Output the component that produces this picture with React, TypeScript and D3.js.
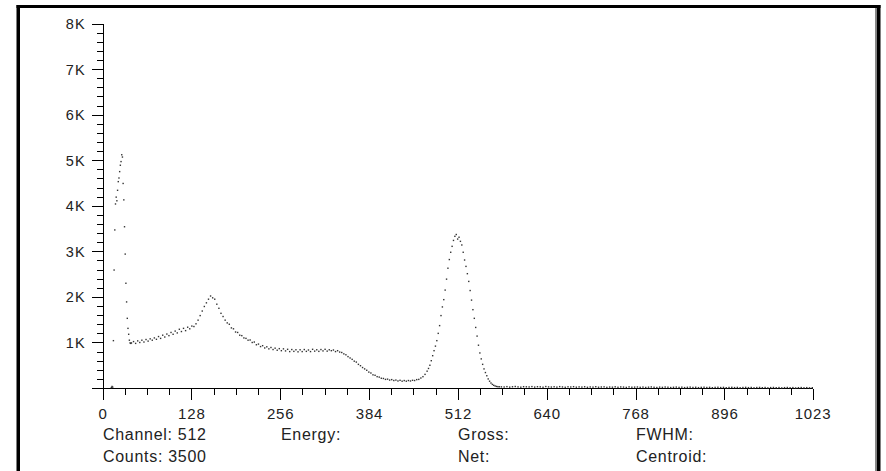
import React from 'react';
import * as d3 from 'd3';

// spectrum counts, split in segments with their own channel step
const edgeStart = 12;
const edgeStep = 1;
const edgeCounts = [20, 45, 30, 1050, 2600, 3480, 4050, 4200, 4120, 4350, 4540, 4620, 4760, 4900, 4980, 5130, 5080, 4500, 4140, 3550, 2950, 2310, 1900, 1540, 1320, 1190, 1060, 1000, 990];

const comptonStart = 41;
const comptonStep = 3;
const comptonCounts = [
  1000, 1030, 990, 1045, 1010, 1060, 1020, 1075, 1040, 1090,
  1060, 1110, 1080, 1140, 1100, 1170, 1130, 1195, 1160, 1230,
  1190, 1260, 1220, 1300, 1250, 1320, 1270, 1345, 1310, 1370,
  1360, 1420, 1500, 1600, 1700, 1800, 1880, 1960, 2030, 1990,
  1960, 1850, 1760, 1650, 1580, 1500, 1440, 1410, 1330, 1310,
  1240, 1230, 1170, 1160, 1110, 1100, 1060, 1065, 1010, 1020,
  960, 975, 920, 940, 890, 915, 870, 900, 855, 885,
  840, 875, 830, 870, 825, 860, 810, 855, 815, 850,
  805, 850, 810, 855, 815, 845, 810, 860, 820, 850,
  815, 855, 825, 860, 820, 850, 830, 845, 810, 830,
  800, 790, 760, 740, 700, 670, 640, 600, 580, 530,
  500, 460, 430, 400, 360, 340, 300, 290, 260, 250,
  225, 220, 200, 205, 185, 195, 175, 185, 165, 180,
  160, 175, 160, 175, 165, 180, 175, 195, 200, 230,
  260, 310, 380,
];

const peakStart = 469;
const peakStep = 2;
const peakCounts = [
  440, 510, 610, 720, 830, 930, 1050, 1210, 1380, 1600,
  1790, 1950, 2160, 2400, 2640, 2830, 2990, 3120, 3250, 3340,
  3380, 3280, 3320, 3230, 3150, 2990, 2820, 2680, 2520, 2350,
  2150, 1940, 1730, 1540, 1340, 1150, 950, 780, 650, 530,
  430, 350, 280, 210, 160, 120, 90, 70, 55, 45,
  40, 38,
];

const tailStart = 574;
const tailStep = 4;
const tailCounts = [
  36, 33, 41, 30, 38, 44, 35, 29, 40, 37,
  34, 42, 31, 39, 36, 28, 43, 35, 32, 38,
  30, 41, 34, 27, 37, 33, 40, 29, 35, 31,
  38, 26, 34, 30, 39, 28, 33, 36, 25, 32,
  29, 37, 27, 34, 31, 24, 35, 28, 30, 33,
  26, 31, 23, 29, 34, 27, 22, 30, 25, 32,
  28, 21, 27, 31, 24, 29, 20, 26, 30, 23,
  27, 19, 25, 28, 22, 26, 18, 24, 27, 21,
  25, 17, 23, 26, 20, 24, 16, 22, 25, 19,
  23, 15, 21, 24, 18, 22, 14, 20, 23, 17,
  21, 13, 19, 22, 16, 20, 12, 18, 21, 15,
  19, 14, 17,
];

const xMajorTicks = [0, 128, 256, 384, 512, 640, 768, 896, 1023];
const yMajorTicks = [0, 1000, 2000, 3000, 4000, 5000, 6000, 7000, 8000];
const yTickLabels = ['', '1K', '2K', '3K', '4K', '5K', '6K', '7K', '8K'];

const infoLeft = ['Channel: 512', 'Counts: 3500'];
const infoMid = ['Energy:', ''];
const infoGross = ['Gross:', 'Net:'];
const infoRight = ['FWHM:', 'Centroid:'];

const W = 886;
const H = 471;
const FONT = '"Liberation Sans", Arial, sans-serif';

const segment = (start: number, step: number, counts: number[]) =>
  counts.map((c, i) => ({ ch: start + i * step, c }));

const points = [
  ...segment(edgeStart, edgeStep, edgeCounts),
  ...segment(comptonStart, comptonStep, comptonCounts),
  ...segment(peakStart, peakStep, peakCounts),
  ...segment(tailStart, tailStep, tailCounts),
];

export default function App() {
  const x = d3.scaleLinear().domain([0, 1023]).range([103, 813]);
  const y = d3.scaleLinear().domain([0, 8000]).range([388.5, 24]);
  const x0 = x(0);
  const y0 = y(0);

  const xMinor = d3.range(0, 1024, 32).filter(v => v % 128 !== 0);
  const yMinor = d3.range(0, 8001, 200).filter(v => v % 1000 !== 0);

  const infoCols: [number, string[]][] = [
    [103, infoLeft],
    [281, infoMid],
    [458, infoGross],
    [636, infoRight],
  ];

  return (
    <svg width={W} height={H} style={{ position: 'fixed', left: 0, top: 0, background: '#fff' }}
      fontFamily={FONT}>
      <rect x={0} y={0} width={W} height={H} fill="#fff" />
      {/* frame */}
      <rect x={16.5} y={5} width={864} height={3} fill="#000" />
      <rect x={16.5} y={5} width={3.5} height={H - 5} fill="#000" />
      <rect x={876.5} y={5} width={4} height={H - 5} fill="#000" />
      <rect x={875} y={8} width={1.5} height={H - 8} fill="#888" />

      {/* axes */}
      <g stroke="#000" strokeWidth={1} shapeRendering="crispEdges">
        <line x1={x0} x2={x(1023)} y1={y0} y2={y0} />
        <line x1={x0} x2={x0} y1={y(8000)} y2={y0} />
        {xMajorTicks.map(t => (
          <line key={'xm' + t} x1={x(t)} x2={x(t)} y1={y0} y2={y0 + 11} />
        ))}
        {xMinor.map(t => (
          <line key={'xn' + t} x1={x(t)} x2={x(t)} y1={y0} y2={y0 + 6} />
        ))}
        {yMajorTicks.map(t => (
          <line key={'ym' + t} x1={x0 - 11} x2={x0} y1={y(t)} y2={y(t)} />
        ))}
        {yMinor.map(t => (
          <line key={'yn' + t} x1={x0 - 6} x2={x0} y1={y(t)} y2={y(t)} />
        ))}
      </g>

      <g fill="#222" fontSize={15} letterSpacing={0.8}>
        {xMajorTicks.map(t => (
          <text key={'xl' + t} x={x(t)} y={419} textAnchor="middle">{t}</text>
        ))}
      </g>
      <g fill="#222" fontSize={14.5} letterSpacing={1.2}>
        {yMajorTicks.map((t, i) => (
          <text key={'yl' + t} x={86} y={y(t) + 5} textAnchor="end">{yTickLabels[i]}</text>
        ))}
      </g>

      {/* spectrum dots */}
      <g fill="#333">
        {points.map(p => (
          <rect key={p.ch} x={x(p.ch) - 0.7} y={y(p.c) - 0.7} width={1.4} height={1.4} />
        ))}
      </g>

      <g fill="#222" fontSize={16} letterSpacing={0.7}>
        {infoCols.map(([cx, lines]) =>
          lines.map((s, i) => (
            <text key={cx + '-' + i} x={cx} y={440 + i * 22}>{s}</text>
          ))
        )}
      </g>
    </svg>
  );
}
